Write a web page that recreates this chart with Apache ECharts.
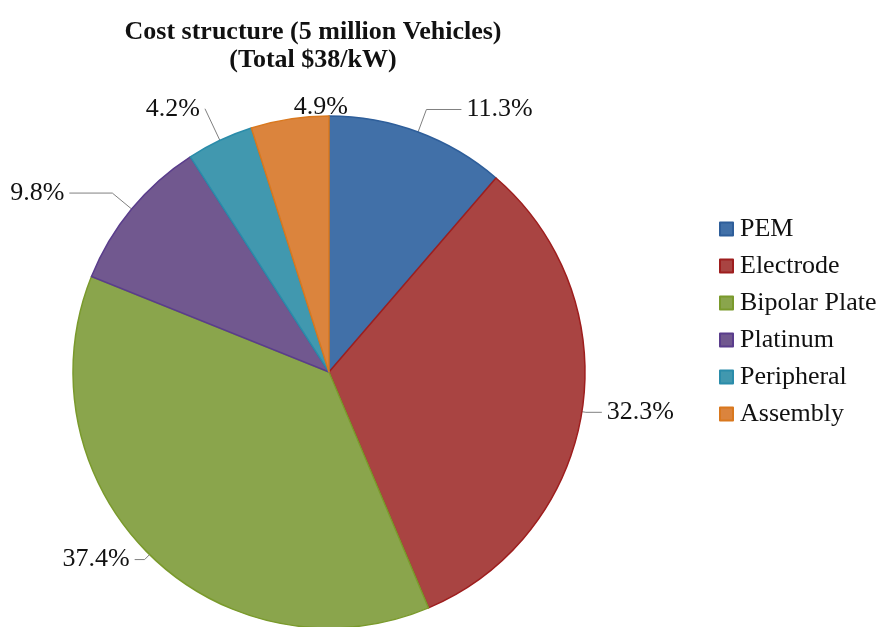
<!DOCTYPE html>
<html>
<head>
<meta charset="utf-8">
<script src="https://cdn.jsdelivr.net/npm/echarts@6/dist/echarts.min.js"></script>
<style>
  html, body { margin: 0; padding: 0; background: #ffffff; }
  #chart { width: 879px; height: 627px; }
</style>
</head>
<body>
<div id="chart"></div>
<script>
// Fuel-cell stack cost breakdown, share of total (%)
const categories = ['PEM', 'Electrode', 'Bipolar Plate', 'Platinum', 'Peripheral', 'Assembly'];
const shares = [11.3, 32.3, 37.4, 9.8, 4.2, 4.9];

// Slice fills and their darker outlines
const fillColors = ['#4170A8', '#A94442', '#8AA54C', '#71588F', '#4198AF', '#DB843D'];
const edgeColors = ['#2E5E9A', '#9E1E1E', '#7A9A2C', '#5A3D8C', '#2A8CAA', '#D9781E'];

// Leader line lengths for each outside label (first and second segment)
const leaderLen = [24, 4, 7, 25, 35, 12];
const leaderLen2 = [35, 16, 10, 43, 0, -65];
const leaderVisible = [true, true, true, true, true, false];

const serif = '"Liberation Serif", "Times New Roman", serif';

const pieData = categories.map((name, i) => ({
  name: name,
  value: shares[i],
  itemStyle: {
    color: fillColors[i],
    borderColor: edgeColors[i],
    borderWidth: 1.5
  },
  labelLine: {
    show: leaderVisible[i],
    length: leaderLen[i],
    length2: leaderLen2[i]
  }
}));

const chart = echarts.init(document.getElementById('chart'), null, { renderer: 'canvas' });

chart.setOption({
  backgroundColor: '#ffffff',
  animation: false,
  title: {
    text: 'Cost structure (5 million Vehicles)\n(Total $38/kW)',
    left: 313,
    top: 18,
    padding: 0,
    textAlign: 'center',
    textStyle: {
      fontFamily: serif,
      fontWeight: 'bold',
      fontSize: 26,
      lineHeight: 28,
      color: '#111111'
    }
  },
  legend: {
    orient: 'vertical',
    left: 719,
    top: 216,
    padding: 0,
    itemWidth: 13,
    itemHeight: 13,
    itemGap: 11,
    icon: 'rect',
    data: categories,
    textStyle: {
      fontFamily: serif,
      fontSize: 26,
      lineHeight: 26,
      color: '#111111',
      padding: [0, 0, 0, 2]
    }
  },
  series: [{
    type: 'pie',
    center: [329, 372],
    radius: 256,
    startAngle: 90,
    clockwise: true,
    avoidLabelOverlap: false,
    data: pieData,
    label: {
      show: true,
      position: 'outside',
      distanceToLabelLine: 5,
      formatter: p => p.value.toFixed(1) + '%',
      fontFamily: serif,
      fontSize: 26,
      color: '#111111'
    },
    labelLine: {
      show: true,
      smooth: false,
      lineStyle: { color: '#808080', width: 1 }
    },
    emphasis: { disabled: true }
  }]
});
</script>
</body>
</html>
